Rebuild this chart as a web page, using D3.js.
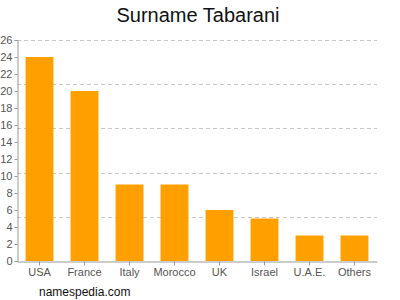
<!DOCTYPE html>
<html>
<head>
<meta charset="utf-8">
<script src="https://cdn.jsdelivr.net/npm/d3@7"></script>
<style>
  body { margin: 0; background: #fff; }
  svg { display: block; font-family: "Liberation Sans", Arial, sans-serif; }
</style>
</head>
<body>
<div id="chart"></div>
<script>
const categories = ['USA', 'France', 'Italy', 'Morocco', 'UK', 'Israel', 'U.A.E.', 'Others'];
const counts = [24, 20, 9, 9, 6, 5, 3, 3];
const yTicks = [0, 2, 4, 6, 8, 10, 12, 14, 16, 18, 20, 22, 24, 26];
const gridValues = [5.2, 10.4, 15.6, 20.8, 26];

const width = 400, height = 300;
const margin = { top: 40, right: 23, bottom: 39, left: 17 };

const svg = d3.select('#chart').append('svg')
  .attr('width', width)
  .attr('height', height);

const x = d3.scaleBand()
  .domain(categories)
  .range([margin.left, width - margin.right])
  .paddingInner(0.38)
  .paddingOuter(0.19);

const y = d3.scaleLinear()
  .domain([0, 26])
  .range([height - margin.bottom, margin.top]);

// dashed grid
svg.append('g')
  .selectAll('line')
  .data(gridValues)
  .enter().append('line')
  .attr('x1', margin.left)
  .attr('x2', width - margin.right)
  .attr('y1', d => Math.round(y(d)) + 0.5)
  .attr('y2', d => Math.round(y(d)) + 0.5)
  .attr('stroke', '#c8c8c8')
  .attr('stroke-dasharray', '4,3');

// bars
svg.append('g')
  .selectAll('rect')
  .data(counts)
  .enter().append('rect')
  .attr('x', (d, i) => x(categories[i]))
  .attr('width', x.bandwidth())
  .attr('y', d => y(d))
  .attr('height', d => y(0) - y(d))
  .attr('fill', '#ffa000');

// y axis
const yAxis = svg.append('g')
  .attr('transform', `translate(${margin.left + 0.5},0)`)
  .call(d3.axisLeft(y).tickValues(yTicks).tickSize(3).tickPadding(2));
yAxis.select('.domain').attr('stroke', '#999');
yAxis.selectAll('.tick line').attr('stroke', '#999');
yAxis.selectAll('.tick text').attr('fill', '#555').style('font-size', '11px');

// x axis
const xAxis = svg.append('g')
  .attr('transform', `translate(0,${height - margin.bottom + 0.5})`)
  .call(d3.axisBottom(x).tickSize(4).tickSizeOuter(0).tickPadding(3));
xAxis.select('.domain').attr('stroke', '#999');
xAxis.selectAll('.tick line').attr('stroke', '#999');
xAxis.selectAll('.tick text').attr('fill', '#555').style('font-size', '11px');

// title
svg.append('text')
  .attr('x', 198)
  .attr('y', 22)
  .attr('text-anchor', 'middle')
  .style('font-size', '20px')
  .attr('fill', '#111')
  .text('Surname Tabarani');

// footer
svg.append('text')
  .attr('x', 39)
  .attr('y', 296)
  .style('font-size', '12px')
  .attr('fill', '#111')
  .text('namespedia.com');
</script>
</body>
</html>
